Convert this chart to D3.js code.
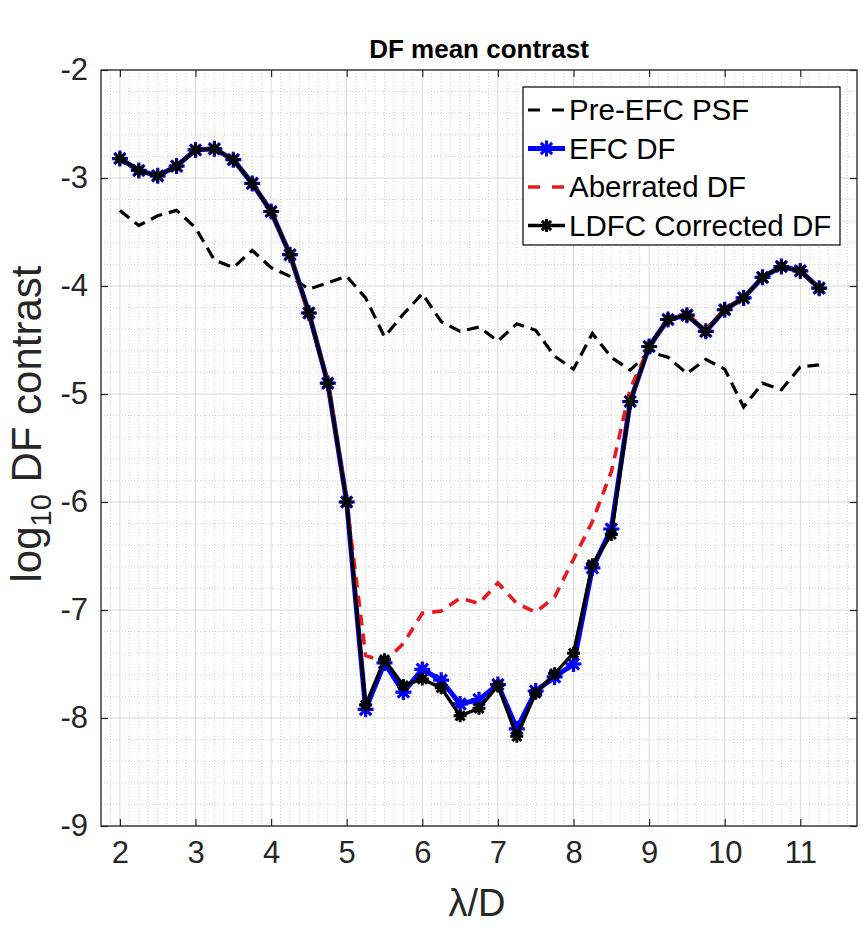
<!DOCTYPE html>
<html>
<head>
<meta charset="utf-8">
<script src="https://cdn.jsdelivr.net/npm/d3@7"></script>
<style>
  html, body { margin: 0; padding: 0; background: #fff; }
  svg { display: block; font-family: "Liberation Sans", Arial, Helvetica, sans-serif; }
</style>
</head>
<body>
<svg id="chart" width="863" height="929"></svg>
<script>
// ---- data ----
const lambdaD = [2, 2.25, 2.5, 2.75, 3, 3.25, 3.5, 3.75, 4, 4.25, 4.5, 4.75, 5, 5.25, 5.5, 5.75,
  6, 6.25, 6.5, 6.75, 7, 7.25, 7.5, 7.75, 8, 8.25, 8.5, 8.75, 9, 9.25, 9.5, 9.75,
  10, 10.25, 10.5, 10.75, 11, 11.25];

const preEFC = [-3.30, -3.44, -3.35, -3.30, -3.46, -3.76, -3.83, -3.67, -3.83, -3.91, -4.03, -3.97,
  -3.91, -4.11, -4.47, -4.26, -4.07, -4.33, -4.42, -4.38, -4.51, -4.35, -4.41, -4.65,
  -4.77, -4.44, -4.66, -4.78, -4.61, -4.66, -4.81, -4.68, -4.77, -5.12, -4.90, -4.96,
  -4.75, -4.73];

const efcDF = [-2.82, -2.93, -2.98, -2.89, -2.74, -2.73, -2.83, -3.05, -3.31, -3.71, -4.25, -4.90,
  -6.00, -7.92, -7.49, -7.76, -7.55, -7.65, -7.87, -7.83, -7.69, -8.10, -7.75, -7.62,
  -7.50, -6.61, -6.25, -5.07, -4.56, -4.31, -4.27, -4.42, -4.22, -4.11, -3.92, -3.82,
  -3.86, -4.02];

const aberratedDF = [-2.82, -2.93, -2.98, -2.89, -2.74, -2.73, -2.83, -3.05, -3.31, -3.71, -4.27, -4.88,
  -6.00, -7.42, -7.48, -7.31, -7.03, -7.01, -6.89, -6.94, -6.75, -6.94, -7.02, -6.88,
  -6.53, -6.18, -5.72, -4.95, -4.57, -4.31, -4.26, -4.40, -4.22, -4.11, -3.92, -3.82,
  -3.86, -4.02];

const ldfcDF = [-2.82, -2.93, -2.98, -2.89, -2.74, -2.73, -2.83, -3.05, -3.31, -3.71, -4.25, -4.90,
  -6.00, -7.88, -7.46, -7.70, -7.64, -7.72, -7.98, -7.91, -7.70, -8.17, -7.77, -7.59,
  -7.40, -6.58, -6.30, -5.07, -4.56, -4.31, -4.27, -4.42, -4.22, -4.11, -3.92, -3.82,
  -3.86, -4.02];

const xTicks = [2, 3, 4, 5, 6, 7, 8, 9, 10, 11];
const yTicks = [-2, -3, -4, -5, -6, -7, -8, -9];
const seriesNames = ["Pre-EFC PSF", "EFC DF", "Aberrated DF", "LDFC Corrected DF"];

// ---- layout ----
const svg = d3.select("#chart");
const L = 101, R = 857, T = 70, B = 826;
const x = d3.scaleLinear().domain([1.75, 11.75]).range([L, R]);
const y = d3.scaleLinear().domain([-9, -2]).range([B, T]);
const axisColor = "#262626";

// grid
const g = svg.append("g");
const minorX = d3.range(1.75, 11.75 + 1e-9, 0.125).filter(v => Math.abs(v - Math.round(v)) > 1e-6);
const minorY = d3.range(-9, -2 + 1e-9, 0.2).filter(v => Math.abs(v - Math.round(v)) > 1e-6);
g.selectAll(".mx").data(minorX).enter().append("line")
  .attr("x1", d => x(d)).attr("x2", d => x(d)).attr("y1", T).attr("y2", B)
  .attr("stroke", "#cfcfcf").attr("stroke-width", 1).attr("stroke-dasharray", "1,2");
g.selectAll(".my").data(minorY).enter().append("line")
  .attr("x1", L).attr("x2", R).attr("y1", d => y(d)).attr("y2", d => y(d))
  .attr("stroke", "#cfcfcf").attr("stroke-width", 1).attr("stroke-dasharray", "1,2");
g.selectAll(".Mx").data(xTicks).enter().append("line")
  .attr("x1", d => x(d)).attr("x2", d => x(d)).attr("y1", T).attr("y2", B)
  .attr("stroke", "#d8d8d8").attr("stroke-width", 1);
g.selectAll(".My").data(yTicks).enter().append("line")
  .attr("x1", L).attr("x2", R).attr("y1", d => y(d)).attr("y2", d => y(d))
  .attr("stroke", "#d8d8d8").attr("stroke-width", 1);

// series
const line = vals => d3.line().x((d, i) => x(lambdaD[i])).y(d => y(d))(vals);
function starPath(r) {
  const a = r * 0.7071;
  return `M${-r},0L${r},0M0,${-r}L0,${r}M${-a},${-a}L${a},${a}M${-a},${a}L${a},${-a}`;
}
const plot = svg.append("g");

plot.append("path").attr("d", line(preEFC)).attr("fill", "none")
  .attr("stroke", "#000").attr("stroke-width", 3.2).attr("stroke-dasharray", "12,7");

plot.append("path").attr("d", line(efcDF)).attr("fill", "none")
  .attr("stroke", "#0000ff").attr("stroke-width", 5).attr("stroke-linejoin", "round");
plot.selectAll(".efcm").data(efcDF).enter().append("path")
  .attr("transform", (d, i) => `translate(${x(lambdaD[i])},${y(d)})`)
  .attr("d", starPath(8)).attr("stroke", "#0000ff").attr("stroke-width", 3.2).attr("fill", "none");

plot.append("path").attr("d", line(aberratedDF)).attr("fill", "none")
  .attr("stroke", "#e8191f").attr("stroke-width", 3.6).attr("stroke-dasharray", "11,8");

plot.append("path").attr("d", line(ldfcDF)).attr("fill", "none")
  .attr("stroke", "#000").attr("stroke-width", 3.4).attr("stroke-linejoin", "round");
plot.selectAll(".ldm").data(ldfcDF).enter().append("path")
  .attr("transform", (d, i) => `translate(${x(lambdaD[i])},${y(d)})`)
  .attr("d", starPath(6.5)).attr("stroke", "#000").attr("stroke-width", 3).attr("fill", "none");

// axes (box with inward ticks)
const tickFont = 31;
const ax = svg.append("g").attr("color", axisColor);
ax.append("g").attr("transform", `translate(0,${B})`)
  .call(d3.axisBottom(x).tickValues(xTicks).tickSize(-7).tickSizeOuter(0).tickPadding(15).tickFormat(d3.format("d")));
ax.append("g").attr("transform", `translate(0,${T})`)
  .call(d3.axisTop(x).tickValues(xTicks).tickSize(-7).tickSizeOuter(0).tickFormat(""));
ax.append("g").attr("transform", `translate(${L},0)`)
  .call(d3.axisLeft(y).tickValues(yTicks).tickSize(-7).tickSizeOuter(0).tickPadding(13).tickFormat(d => "-" + Math.abs(d)));
ax.append("g").attr("transform", `translate(${R},0)`)
  .call(d3.axisRight(y).tickValues(yTicks).tickSize(-7).tickSizeOuter(0).tickFormat(""));
ax.selectAll(".domain").remove();
ax.selectAll("text").attr("font-size", tickFont).attr("fill", axisColor)
  .attr("font-family", "'Liberation Sans', Arial, sans-serif");
ax.selectAll("line").attr("stroke-width", 1.2);
svg.append("rect").attr("x", L).attr("y", T).attr("width", R - L).attr("height", B - T)
  .attr("fill", "none").attr("stroke", axisColor).attr("stroke-width", 1.3);

// title & labels
svg.append("text").attr("x", (L + R) / 2).attr("y", 58).attr("text-anchor", "middle")
  .attr("font-size", 26).attr("font-weight", "bold").attr("fill", "#000").text("DF mean contrast");
svg.append("text").attr("x", (L + R) / 2 - 2).attr("y", 916).attr("text-anchor", "middle")
  .attr("font-size", 38).attr("fill", axisColor).text("λ/D");
const ylab = svg.append("text").attr("transform", `translate(41,${(T + B) / 2 - 24}) rotate(-90)`)
  .attr("text-anchor", "middle").attr("font-size", 42).attr("fill", axisColor);
ylab.append("tspan").text("log");
ylab.append("tspan").attr("font-size", 29).attr("dy", 10).text("10");
ylab.append("tspan").attr("dy", -10).text(" DF contrast");

// legend
const lg = svg.append("g");
lg.append("rect").attr("x", 523).attr("y", 87).attr("width", 317).attr("height", 158)
  .attr("fill", "#fff").attr("stroke", "#000").attr("stroke-width", 1.2);
const rowY = i => 110 + i * 38.5;
const legStyles = [
  { color: "#000", dash: "12,12", w: 3.2, marker: null },
  { color: "#0000ff", dash: null, w: 5, marker: 8 },
  { color: "#e8191f", dash: "12,12", w: 3.6, marker: null },
  { color: "#000", dash: null, w: 3.4, marker: 6.5 }
];
seriesNames.forEach((name, i) => {
  const s = legStyles[i];
  const ln = lg.append("line").attr("x1", 528).attr("x2", 565).attr("y1", rowY(i)).attr("y2", rowY(i))
    .attr("stroke", s.color).attr("stroke-width", s.w);
  if (s.dash) ln.attr("stroke-dasharray", s.dash);
  if (s.marker) lg.append("path").attr("transform", `translate(546.5,${rowY(i)})`)
    .attr("d", starPath(s.marker)).attr("stroke", s.color).attr("stroke-width", 3).attr("fill", "none");
  lg.append("text").attr("x", 569).attr("y", rowY(i) + 10).attr("font-size", 29.5)
    .attr("fill", "#000").text(name);
});
</script>
</body>
</html>
